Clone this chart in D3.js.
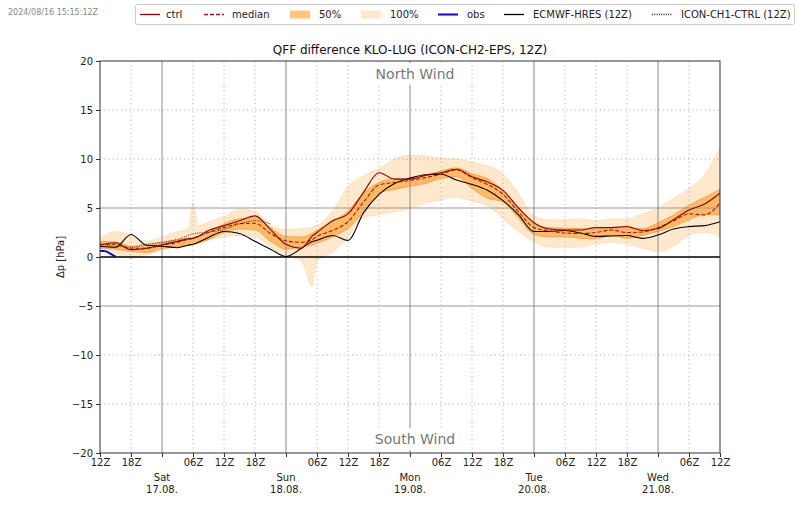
<!DOCTYPE html>
<html><head><meta charset="utf-8">
<script src="https://cdn.jsdelivr.net/npm/d3@7"></script>
<style>body{margin:0;background:#fff} text{font-family:"DejaVu Sans",sans-serif}</style>
</head><body><svg id="c" width="800" height="509"></svg>
<script>
// hours since 2024-08-16 12Z
const hours  = [0,3,6,9,12,15,17,18,19,21,24,27,30,33,36,39,41,42,45,48,51,54,57,60,63,66,69,72,75,78,81,84,87,90,93,96,99,102,105,108,111,114,117,120];
const ctrl   = [1.2,1.45,0.75,0.9,1.25,1.6,1.85,1.9,2.1,2.7,3.2,3.7,4.2,2.8,1.3,0.9,2.1,2.5,3.7,4.4,6.6,8.6,7.95,7.95,8.35,8.6,8.95,8.2,7.65,6.8,5.0,3.5,2.85,2.75,2.75,3.0,3.0,3.1,2.7,2.9,3.8,4.8,5.4,6.5];
const median = [1.3,1.3,0.9,0.9,1.2,1.5,1.8,1.9,2.1,2.5,3.0,3.4,3.45,2.4,1.65,1.5,1.75,2.1,2.7,3.6,5.6,7.35,7.6,7.8,8.1,8.45,8.9,8.1,7.4,6.4,4.6,3.0,2.65,2.45,2.4,2.5,2.75,2.5,2.55,3.0,3.7,4.4,4.3,5.5];
const p75    = [1.6,1.55,1.1,1.2,1.5,1.75,1.95,2.0,2.15,2.5,3.4,3.9,4.0,3.0,2.1,2.05,2.4,2.75,3.6,4.7,6.5,7.6,8.0,8.0,8.35,8.8,9.1,8.5,8.0,6.7,5.0,3.4,3.0,2.95,2.9,2.85,2.9,2.9,2.9,3.5,4.3,5.3,6.1,6.9];
const p25    = [0.9,0.8,0.55,0.45,0.85,1.05,1.2,1.25,1.4,1.75,2.5,2.85,2.75,1.6,0.8,1.05,1.2,1.4,2.05,2.9,4.6,6.5,6.9,7.2,7.5,8.0,8.2,7.0,6.0,5.6,3.95,2.3,2.05,2.05,1.9,1.85,2.2,1.9,2.2,2.6,3.1,3.8,4.3,4.3];
const maxV   = [1.9,2.6,2.2,1.6,2.05,2.6,2.9,5.5,3.2,3.6,4.1,4.9,4.7,3.3,2.8,2.9,3.0,3.2,4.7,7.2,8.3,9.0,10.0,10.4,10.3,10.1,10.0,9.7,9.3,8.5,6.5,4.2,3.8,3.8,3.9,3.7,3.9,3.9,4.4,5.0,6.0,7.0,8.4,11.1];
const minV   = [0.9,0.4,-0.15,0.2,0.7,1.05,1.15,1.2,1.4,1.75,2.05,2.2,2.05,1.0,0.1,-0.4,-3.0,-0.5,0.5,2.0,4.0,4.3,4.6,4.9,5.5,5.8,6.1,5.7,5.2,3.9,2.6,1.5,1.0,1.0,1.0,1.3,1.5,1.3,0.9,0.55,1.1,2.2,2.5,2.0];
const ecmwf  = [1.1,1.0,2.3,1.2,1.1,0.95,1.2,1.3,1.5,2.0,2.6,2.4,1.6,0.8,0.05,0.9,1.55,1.7,2.2,1.7,4.5,6.4,7.5,8.05,8.4,8.45,7.85,7.4,6.8,5.75,4.3,2.6,2.6,2.7,2.45,2.1,2.15,2.2,1.9,2.25,2.85,3.1,3.2,3.6];
const iconHours = [0,3,6,9,12,15,18,21,24,27,30,33];
const iconCh1   = [1.3,1.1,1.0,1.3,1.5,1.8,2.35,2.55,2.8,3.4,3.7,3.4];
const obsHours = [0,1,2,3];
const obs      = [0.65,0.6,0.35,0.05];

const xTickHours  = [0,6,12,18,24,30,36,42,48,54,60,66,72,78,84,90,96,102,108,114,120];
const xTickLabels = ["12Z","18Z","","06Z","12Z","18Z","","06Z","12Z","18Z","","06Z","12Z","18Z","","06Z","12Z","18Z","","06Z","12Z"];
const dayHours = [12,36,60,84,108];
const dayNames = ["Sat","Sun","Mon","Tue","Wed"];
const dayDates = ["17.08.","18.08.","19.08.","20.08.","21.08."];
const yTicks = [-20,-15,-10,-5,0,5,10,15,20];

const L=100,R=720,T=61,B=453;
const svg = d3.select("#c");
svg.append("rect").attr("width",800).attr("height",509).attr("fill","#fff");
const x = d3.scaleLinear().domain([0,120]).range([L,R]);
const y = d3.scaleLinear().domain([-20,20]).range([B,T]);
const curve = d3.curveMonotoneX;

svg.append("defs").append("clipPath").attr("id","clip")
  .append("rect").attr("x",L).attr("y",T).attr("width",R-L).attr("height",B-T);
const plot = svg.append("g").attr("clip-path","url(#clip)");

// bands
const idx = hours.map((h,i)=>i);
const area = (lo,hi)=>d3.area().curve(curve).x(i=>x(hours[i])).y0(i=>y(lo[i])).y1(i=>y(hi[i]));
plot.append("path").attr("d",area(minV,maxV)(idx)).attr("fill","#ff8c00").attr("fill-opacity",0.2)
  .attr("stroke","#ff8c00").attr("stroke-opacity",0.2).attr("stroke-width",0.8);
plot.append("path").attr("d",area(p25,p75)(idx)).attr("fill","#ff8c00").attr("fill-opacity",0.5)
  .attr("stroke","#e07800").attr("stroke-opacity",0.5).attr("stroke-width",0.8);

// grid
const dotted = "1.2,3";
xTickHours.filter(h=>h>0 && h<120 && !dayHours.includes(h)).forEach(h=>{
  plot.append("line").attr("x1",x(h)).attr("x2",x(h)).attr("y1",T).attr("y2",B)
    .attr("stroke","#b0b0b0").attr("stroke-width",1).attr("stroke-dasharray",dotted);
});
[-15,-10,10,15].forEach(v=>{
  plot.append("line").attr("x1",L).attr("x2",R).attr("y1",y(v)).attr("y2",y(v))
    .attr("stroke","#b0b0b0").attr("stroke-width",1).attr("stroke-dasharray",dotted);
});
[-5,5].forEach(v=>{
  plot.append("line").attr("x1",L).attr("x2",R).attr("y1",y(v)).attr("y2",y(v))
    .attr("stroke","#999").attr("stroke-width",1);
});
dayHours.forEach(h=>{
  plot.append("line").attr("x1",x(h)).attr("x2",x(h)).attr("y1",T).attr("y2",B)
    .attr("stroke","#888").attr("stroke-width",1);
});

// lines
const line = (hs,vs)=>d3.line().curve(curve).x(i=>x(hs[i])).y(i=>y(vs[i]))(hs.map((h,i)=>i));
plot.append("path").attr("d",line(iconHours,iconCh1)).attr("fill","none").attr("stroke","#222").attr("stroke-width",1).attr("stroke-dasharray","1,1.3");
plot.append("path").attr("d",line(hours,ecmwf)).attr("fill","none").attr("stroke","#000").attr("stroke-width",1.1);
plot.append("path").attr("d",line(hours,median)).attr("fill","none").attr("stroke","#b01010").attr("stroke-width",1.1).attr("stroke-dasharray","4,2");
plot.append("path").attr("d",line(hours,ctrl)).attr("fill","none").attr("stroke","#8b0000").attr("stroke-width",1.1);
plot.append("path").attr("d",line(obsHours,obs)).attr("fill","none").attr("stroke","#0000ff").attr("stroke-width",2);

// zero line
plot.append("line").attr("x1",L).attr("x2",R).attr("y1",y(0)).attr("y2",y(0)).attr("stroke","#000").attr("stroke-width",1.5);

// wind labels
[["North Wind",79],["South Wind",444]].forEach(([t,by])=>{
  const g = svg.append("g");
  const tx = g.append("text").attr("x",415).attr("y",by).attr("text-anchor","middle")
    .attr("font-size",14).attr("fill","#777").text(t);
  const bb = tx.node().getBBox();
  g.insert("rect","text").attr("x",bb.x-5).attr("y",bb.y-3).attr("width",bb.width+10).attr("height",bb.height+6).attr("fill","#fff");
});

// axes
const xAxis = d3.axisBottom(x).tickValues(xTickHours).tickSizeOuter(0).tickSize(4).tickPadding(2)
  .tickFormat(h=>xTickLabels[xTickHours.indexOf(h)]);
const gx = svg.append("g").attr("transform",`translate(0,${B})`).call(xAxis);
gx.select(".domain").remove();
gx.selectAll(".tick line").attr("stroke","#333");
gx.selectAll(".tick text").attr("font-size",10).attr("fill","#222").attr("font-family","DejaVu Sans");
dayHours.forEach((h,i)=>{
  svg.append("text").attr("x",x(h)).attr("y",481).attr("text-anchor","middle").attr("font-size",10).attr("fill","#222").text(dayNames[i]);
  svg.append("text").attr("x",x(h)).attr("y",493).attr("text-anchor","middle").attr("font-size",10).attr("fill","#222").text(dayDates[i]);
});
const yAxis = d3.axisLeft(y).tickValues(yTicks).tickSizeOuter(0).tickSize(4).tickPadding(3)
  .tickFormat(v=>v<0?"\u2212"+Math.abs(v):String(v));
const gy = svg.append("g").attr("transform",`translate(${L},0)`).call(yAxis);
gy.select(".domain").remove();
gy.selectAll(".tick line").attr("stroke","#333");
gy.selectAll(".tick text").attr("font-size",10).attr("fill","#222").attr("font-family","DejaVu Sans");

// frame
svg.append("rect").attr("x",L).attr("y",T).attr("width",R-L).attr("height",B-T).attr("fill","none").attr("stroke","#333").attr("stroke-width",1);

// titles
svg.append("text").attr("x",(L+R)/2).attr("y",54).attr("text-anchor","middle").attr("font-size",12).attr("fill","#111")
  .text("QFF difference KLO-LUG (ICON-CH2-EPS, 12Z)");
svg.append("text").attr("transform",`translate(64,${y(0)}) rotate(-90)`).attr("text-anchor","middle").attr("font-size",10).attr("fill","#222").text("\u0394p [hPa]");
svg.append("text").attr("x",8).attr("y",15).attr("font-size",8).attr("fill","#888").text("2024/08/16 15:15:12Z");

// legend
const legendItems = [
  {label:"ctrl", type:"line", color:"#8b0000", dash:null, lx:140, tx:166},
  {label:"median", type:"line", color:"#b01010", dash:"4,2", lx:204, tx:232},
  {label:"50%", type:"patch", color:"#ff8c00", op:0.5, lx:290, tx:319},
  {label:"100%", type:"patch", color:"#ff8c00", op:0.2, lx:361, tx:390},
  {label:"obs", type:"line", color:"#0000ff", dash:null, w:2, lx:438, tx:467},
  {label:"ECMWF-HRES (12Z)", type:"line", color:"#000", dash:null, lx:504, tx:533},
  {label:"ICON-CH1-CTRL (12Z)", type:"line", color:"#222", dash:"1,1.3", lx:652, tx:681}
];
svg.append("rect").attr("x",135.5).attr("y",4.5).attr("width",659).attr("height",20).attr("rx",2)
  .attr("fill","#fff").attr("stroke","#ccc").attr("stroke-width",1);
legendItems.forEach(d=>{
  if(d.type==="line"){
    svg.append("line").attr("x1",d.lx).attr("x2",d.lx+20).attr("y1",14.5).attr("y2",14.5)
      .attr("stroke",d.color).attr("stroke-width",d.w||1.3).attr("stroke-dasharray",d.dash);
  } else {
    svg.append("rect").attr("x",d.lx).attr("y",10.5).attr("width",20).attr("height",8)
      .attr("fill",d.color).attr("fill-opacity",d.op);
  }
  svg.append("text").attr("x",d.tx).attr("y",18).attr("font-size",10).attr("fill","#222").text(d.label);
});
</script></body></html>
